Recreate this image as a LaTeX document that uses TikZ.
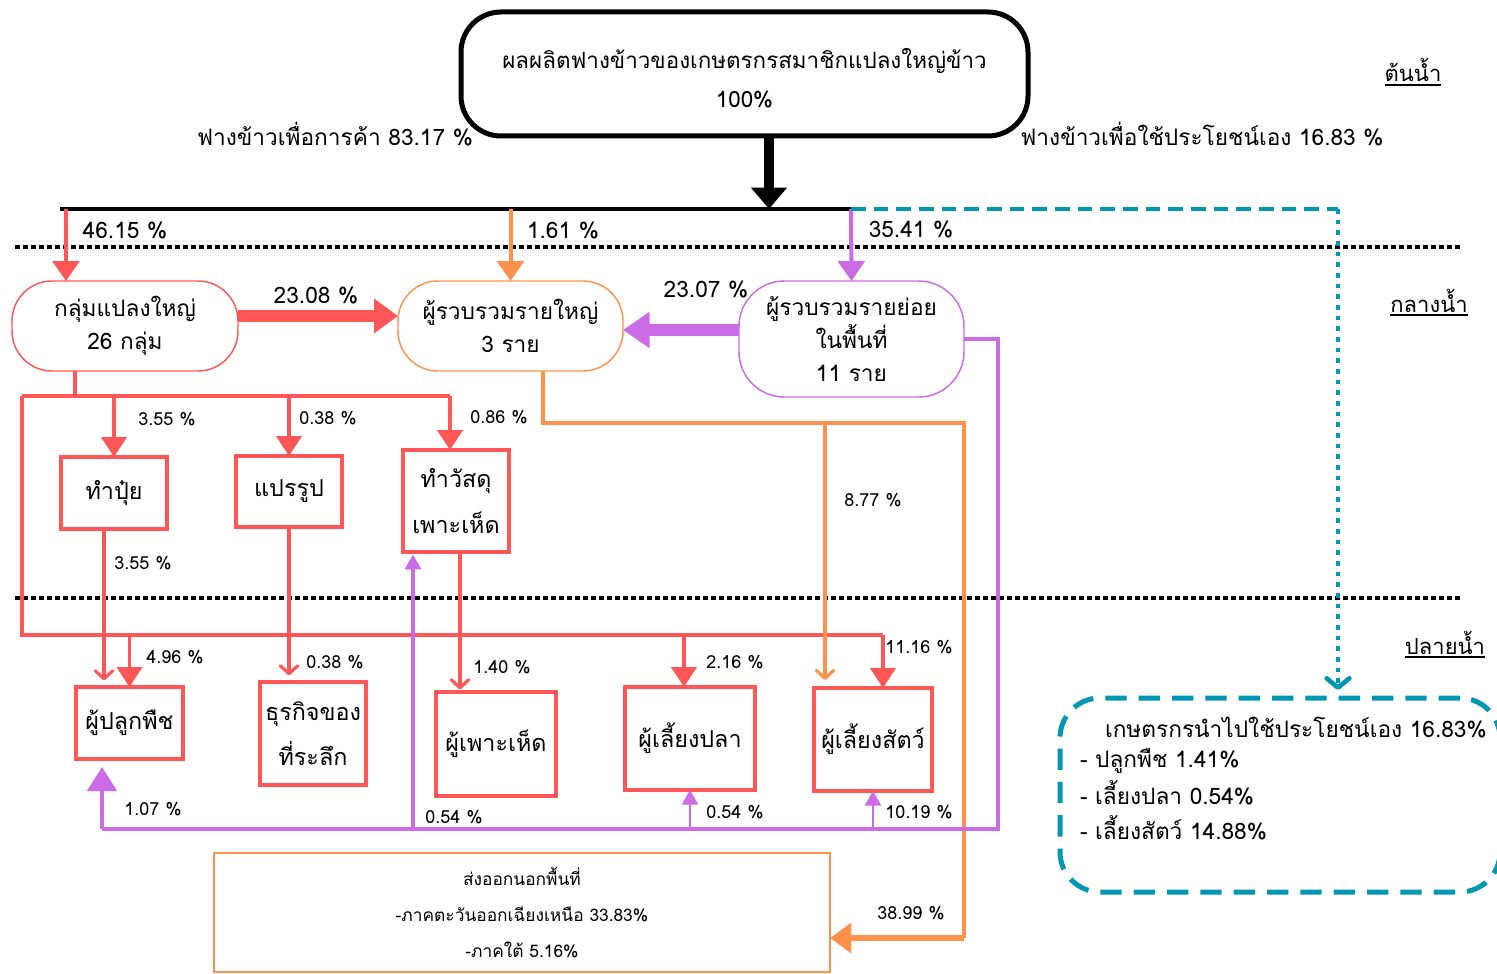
\documentclass[tikz,border=0pt]{standalone}
\usepackage{fontspec}
\setmainfont[Script=Thai]{Loma}
\usetikzlibrary{arrows.meta,fit}
\definecolor{cred}{RGB}{255,87,87}
\definecolor{corange}{RGB}{255,145,77}
\definecolor{cpurple}{RGB}{203,108,230}
\definecolor{cteal}{RGB}{0,151,178}
\newcommand{\ulsect}[1]{\setbox0\hbox{#1}\vtop{\copy0\kern1.2pt\hrule height1.4pt width\wd0}}
\begin{document}
\begin{tikzpicture}[x=0.75pt,y=-0.75pt,
  every node/.style={inner sep=0pt,outer sep=0pt},
  big/.style={font=\fontsize{17}{25}\selectfont},
  boxtxt/.style={font=\fontsize{17.5}{34}\selectfont},
  pct/.style={font=\fontsize{17}{18}\selectfont},
  sml/.style={font=\fontsize{13.5}{14}\selectfont},
  sect/.style={anchor=base,font=\fontsize{16.5}{18}\selectfont},
  tline/.style={anchor=base west,font=\fontsize{17}{18}\selectfont},
  pill/.style={draw=#1,line width=1.1pt,rounded corners=30pt,align=center,big},
  rbox/.style={draw=cred,line width=3pt,align=center,boxtxt},
  redl/.style={draw=cred,line width=2.4pt},
  redarr/.style={redl,-{Triangle[length=15pt,width=19pt]}},
  redbarb/.style={redl,-{Straight Barb[length=6pt,width=13pt,line width=2.4pt,round]}},
  orgl/.style={draw=corange,line width=2.4pt},
  purl/.style={draw=cpurple,line width=3pt},
]
\useasboundingbox (0,0) rectangle (1497,974);
% top box
\node[draw=black,line width=3.75pt,rounded corners=30pt,minimum width=425.25pt,minimum height=93pt] (top) at (744.5,74) {};
\node[align=center,font=\fontsize{16.8}{29}\selectfont] (toptxt) at (744.5,78) {ผลผลิตฟางข้าวของเกษตรกรสมาชิกแปลงใหญ่ข้าว\\100\%};
\node[font=\fontsize{17}{18}\selectfont] (lcom) at (335,134) {ฟางข้าวเพื่อการค้า 83.17 \%};
\node[font=\fontsize{17}{18}\selectfont] (lown) at (1202,134) {ฟางข้าวเพื่อใช้ประโยชน์เอง 16.83 \%};
% section labels
\node[sect] (sec1) at (1413,82) {\ulsect{ต้นน้ำ}};
\node[sect] (sec2) at (1429,312) {\ulsect{กลางน้ำ}};
\node[sect] (sec3) at (1445,654) {\ulsect{ปลายน้ำ}};
% dotted separators
\coordinate (d1l) at (15,247); \coordinate (d1r) at (1462,247);
\coordinate (d2l) at (15,598); \coordinate (d2r) at (1462,598);
\draw[line width=3pt,dash pattern=on 3.5pt off 2.5pt] (d1l) -- (d1r);
\draw[line width=3pt,dash pattern=on 3.5pt off 2.5pt] (d2l) -- (d2r);
% middle nodes
\node[pill=cred,minimum width=169.5pt,minimum height=67.5pt] (g) at (125,326) {กลุ่มแปลงใหญ่\\26 กลุ่ม};
\node[pill=corange,minimum width=168.75pt,minimum height=67.5pt] (b) at (510.5,326) {ผู้รวบรวมรายใหญ่\\3 ราย};
\node[pill=cpurple,minimum width=168.75pt,minimum height=87pt,rounded corners=34pt] (s) at (851.5,339) {ผู้รวบรวมรายย่อย\\ในพื้นที่\\11 ราย};
% red boxes
\node[rbox,minimum width=79.5pt,minimum height=54pt] (puy) at (114,493) {ทำปุ๋ย};
\node[rbox,minimum width=79.5pt,minimum height=53.25pt] (prr) at (289,491.5) {แปรรูป};
\node[rbox,minimum width=79.5pt,minimum height=76.5pt] (wst) at (456,501) {ทำวัสดุ\\เพาะเห็ด};
\node[rbox,minimum width=80.25pt,minimum height=54pt] (plant) at (129.5,723) {ผู้ปลูกพืช};
\node[rbox,minimum width=79.5pt,minimum height=77.25pt] (souv) at (313,733.5) {ธุรกิจของ\\ที่ระลึก};
\node[rbox,minimum width=90pt,minimum height=78pt] (mush) at (496,744) {ผู้เพาะเห็ด};
\node[rbox,minimum width=97.5pt,minimum height=77.25pt] (fish) at (690,738.5) {ผู้เลี้ยงปลา};
\node[rbox,minimum width=88.5pt,minimum height=77.25pt] (live) at (873,739.5) {ผู้เลี้ยงสัตว์};
% export box
\node[draw=corange,line width=2.2pt,minimum width=462pt,minimum height=89.25pt,align=center,font=\fontsize{13}{27}\selectfont] (exp) at (522,912.5) {ส่งออกนอกพื้นที่\\-ภาคตะวันออกเฉียงเหนือ 33.83\%\\-ภาคใต้ 5.16\%};
% teal box
\node[draw=cteal,line width=3.75pt,dash pattern=on 16pt off 9pt,rounded corners=30pt,minimum width=330pt,minimum height=145.5pt] (tbox) at (1280,795) {};
\node[tline] (t0) at (1105,737) {เกษตรกรนำไปใช้ประโยชน์เอง 16.83\%};
\node[tline] (t1) at (1080,767) {- ปลูกพืช 1.41\%};
\node[tline] (t2) at (1080,804) {- เลี้ยงปลา 0.54\%};
\node[tline] (t3) at (1080,839) {- เลี้ยงสัตว์ 14.88\%};
% black split
\coordinate (split) at (769,209);
\coordinate (bl) at (60,209);
\coordinate (br) at (851,209);
\draw[line width=7.5pt,-{Triangle[length=16pt,width=26pt]}] (top.south -| split) -- (split);
\draw[line width=3.5pt] (bl) -- (br);
% top-level arrows
\coordinate (r0) at (66,209);
\draw[redl,line width=3pt,-{Triangle[length=15pt,width=20pt]}] (r0) -- (r0 |- g.north);
\draw[orgl,line width=3pt,-{Triangle[length=15pt,width=20pt]}] (b.north |- r0) -- (b.north);
\draw[purl,-{Triangle[length=15pt,width=20pt]}] (br) -- (s.north);
\node[pct] (l4615) at (125,231) {46.15 \%};
\node[pct] (l161) at (563,231) {1.61 \%};
\node[pct] (l3541) at (911,230) {35.41 \%};
% teal
\coordinate (tc) at (1338,209);
\draw[cteal,line width=3pt,dash pattern=on 11pt off 6pt] (br) -- (tc);
\draw[cteal,line width=3.5pt,dash pattern=on 3.5pt off 4.5pt,-{Straight Barb[length=7pt,width=17pt,line width=3.5pt,round]}] (tc) -- ([yshift=6pt]tc |- tbox.north);
% thick horizontal arrows
\coordinate (ya) at (0,316);
\draw[redl,line width=9pt,-{Triangle[length=18pt,width=25pt]}] (ya -| g.east) -- (ya -| b.west);
\node[pct] (l2308) at (316,296) {23.08 \%};
\coordinate (yp) at (0,330);
\draw[purl,line width=9pt,-{Triangle[length=20pt,width=26pt]}] (yp -| s.west) -- (yp -| b.east);
\node[pct] (l2307) at (706,290) {23.07 \%};
% red distribution
\coordinate (rj) at (75,396);
\coordinate (rl) at (22,396);
\coordinate (rr) at (450,396);
\coordinate (rb) at (22,635);
\coordinate (rbr) at (883,635);
\draw[redl] (g.south -| rj) -- (rj);
\draw[redl] (rl) -- (rr);
\draw[redl] (rl) -- (rb) -- (rbr);
\draw[redarr] (puy.north |- rr) -- (puy.north);
\draw[redarr] (prr.north |- rr) -- (prr.north);
\draw[redarr] (rr) -- (rr |- wst.north);
\draw[redarr] (plant.north |- rb) -- (plant.north);
\coordinate (rf) at (684,635);
\draw[redarr] (rf) -- (rf |- fish.north);
\draw[redarr] (rbr) -- (rbr |- live.north);
\node[sml] (l355a) at (167,419) {3.55 \%};
\node[sml] (l038a) at (328,418) {0.38 \%};
\node[sml] (l086) at (499,417) {0.86 \%};
\node[sml] (l496) at (175,657) {4.96 \%};
\node[sml] (l216) at (735,662) {2.16 \%};
\node[sml] (l1116) at (919,647) {11.16 \%};
% processing to end users
\coordinate (c1) at (104,0);
\draw[redbarb] (puy.south -| c1) -- ([yshift=5pt]plant.north -| c1);
\draw[redbarb] (prr.south) -- ([yshift=5pt]prr.south |- souv.north);
\coordinate (c3) at (460,0);
\draw[redbarb] (wst.south -| c3) -- ([yshift=2pt]mush.north -| c3);
\node[sml] (l355b) at (143,563) {3.55 \%};
\node[sml] (l038b) at (335,662) {0.38 \%};
\node[sml] (l140) at (502,667) {1.40 \%};
% orange distribution
\coordinate (o1) at (543,423);
\coordinate (o2) at (964,423);
\coordinate (o3) at (964,938);
\coordinate (o4) at (825,423);
\draw[orgl] (b.south -| o1) -- (o1) -- (o2) -- (o3);
\draw[orgl,-{Straight Barb[length=6pt,width=13pt,line width=2.4pt,round]}] (o4) -- ([yshift=6pt]o4 |- live.north);
\draw[orgl,line width=5pt,-{Triangle[length=16pt,width=22pt]}] (o3) -- (o3 -| exp.east);
\node[sml] (l877) at (873,500) {8.77 \%};
\node[sml] (l3899) at (911,913) {38.99 \%};
% purple distribution
\coordinate (p1) at (998,339);
\coordinate (p2) at (998,829);
\coordinate (p3) at (102,829);
\coordinate (p4) at (413,829);
\draw[purl] (s.east) -- (p1) -- (p2) -- (p3);
\draw[purl,-{Triangle[length=18pt,width=22pt]}] (p3) -- ([yshift=-6pt]p3 |- plant.south);
\draw[purl,-{Triangle[length=11pt,width=12pt]}] (p4) -- ([yshift=-2pt]p4 |- wst.south);
\draw[cpurple,line width=2.2pt,-{Triangle[length=11pt,width=12pt]}] (fish.south |- p2) -- (fish.south);
\draw[cpurple,line width=2.2pt,-{Triangle[length=11pt,width=12pt]}] (live.south |- p2) -- (live.south);
\node[sml] (l107) at (153,809) {1.07 \%};
\node[sml] (l054a) at (454,817) {0.54 \%};
\node[sml] (l054b) at (735,812) {0.54 \%};
\node[sml] (l1019) at (919,812) {10.19 \%};
\end{tikzpicture}
\end{document}
